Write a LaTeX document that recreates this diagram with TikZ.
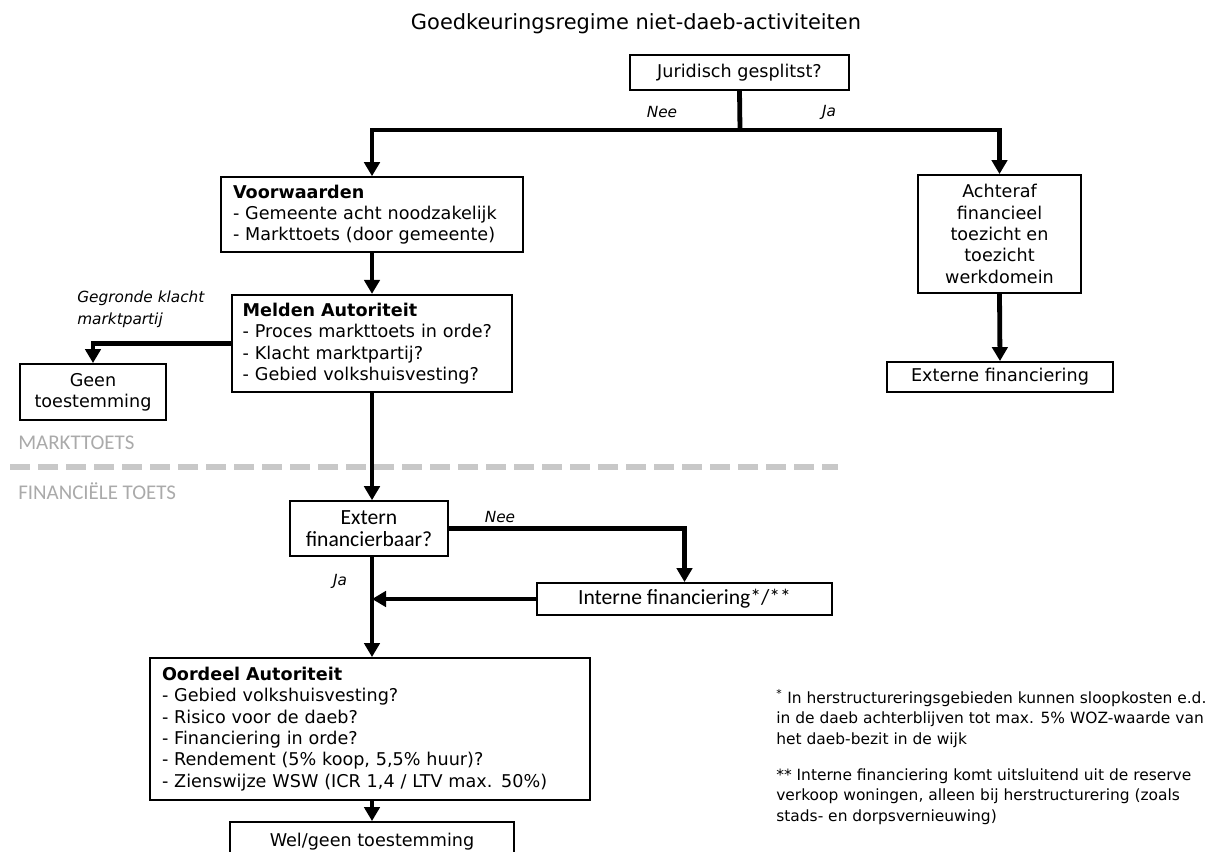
\documentclass[tikz,border=0pt]{standalone}
\usepackage{fontspec}
\setmainfont{DejaVu Sans}
\newfontfamily\carlito{Carlito}
\usetikzlibrary{arrows.meta,positioning}

\definecolor{fasegrijs}{RGB}{170,170,170}
\definecolor{streepgrijs}{RGB}{200,200,200}

\tikzset{
  blok/.style={draw, line width=1.4pt, fill=white, inner sep=0pt, align=center, font=\fontsize{13.2}{16}\selectfont},
  lijst/.style={blok, align=left, inner xsep=9pt, text width=#1},
  maat/.style 2 args={minimum width=#1, minimum height=#2},
  pijl/.style={line width=3.6pt, -{Triangle[length=10.5pt,width=11.5pt]}},
  lijn/.style={line width=3.6pt},
  keuze/.style={inner sep=0pt, font=\fontsize{11.5}{16}\selectfont\itshape},
  fase/.style={inner sep=0pt, anchor=west, text=fasegrijs, font=\fontsize{15.7}{16}\selectfont\carlito},
  calbox/.style={font=\fontsize{16.2}{16.5}\selectfont\carlito},
  noot/.style={inner sep=0pt, anchor=north west, align=left, font=\fontsize{11.6}{15.4}\selectfont},
}

\begin{document}
\begin{tikzpicture}[x=0.75pt,y=0.75pt,yscale=-1,xscale=1]
\clip (0,0) rectangle (1231,852);

% Title
\node[inner sep=0pt, font=\fontsize{15.7}{18}\selectfont] (titel) at (636,24) {Goedkeuringsregime niet-daeb-activiteiten};

% Boxes
\node[blok, maat={164pt}{26pt}] (jur) at (739.5,72.5) {Juridisch gesplitst?};
\coordinate (splits) at (740,130);
\node[lijst=208.5pt, maat={226.5pt}{56pt}] (voor) at (372,214.5) {\textbf{Voorwaarden}\\- Gemeente acht noodzakelijk\\- Markttoets (door gemeente)};
\node[blok, maat={122pt}{88.5pt}] (acht) at (999.5,234) {Achteraf\\financieel\\toezicht en\\toezicht\\werkdomein};
\node[blok, maat={169.5pt}{22.5pt}] (extern) at (1000,377) {Externe financiering};
\node[lijst=194pt, maat={210pt}{73pt}, inner xsep=8pt] (meld) at (372,343.5) {\textbf{Melden Autoriteit}\\- Proces markttoets in orde?\\- Klacht marktpartij?\\- Gebied volkshuisvesting?};
\node[blok, maat={109.5pt}{42pt}] (geen) at (93,392) {Geen\\toestemming};
\node[blok, calbox, maat={118.5pt}{41pt}] (extfin) at (369,528.5) {Extern\\financierbaar?};
\node[blok, calbox, maat={221pt}{24pt}] (intfin) at (684.5,599) {Interne financiering*/**};
\node[lijst=312pt, maat={330pt}{106.5pt}] (oord) at (370,729) {\textbf{Oordeel Autoriteit}\\- Gebied volkshuisvesting?\\- Risico voor de daeb?\\- Financiering in orde?\\- Rendement (5\% koop, 5,5\% huur)?\\- Zienswijze WSW (ICR 1,4 / LTV max. 50\%)};
\node[blok, maat={213pt}{30pt}] (wel) at (372,842) {Wel/geen toestemming};

% Labels
\node[keuze] (nee1) at (662,112) {Nee};
\node[keuze] (ja1) at (829,112) {Ja};
\node[keuze, anchor=north west, align=left] (klacht) at (77,291) {Gegronde klacht\\marktpartij};
\node[keuze] (nee2) at (500,517) {Nee};
\node[keuze] (ja2) at (340,581) {Ja};
\node[fase] (markt) at (18,443) {MARKTTOETS};
\node[fase] (fin) at (18,491) {FINANCIËLE TOETS};

% Separator
\draw[streepgrijs, line width=4.5pt, dash pattern=on 15pt off 6pt] (10,467) -- (838,467);

% Connectors
\draw[lijn] (jur.south) -- (splits);
\draw[pijl] (splits) -| (voor.north);
\draw[pijl] (splits) -| (acht.north);
\draw[pijl] (acht.south) -- (extern.north);
\draw[pijl] (voor.south) -- (meld.north);
\draw[pijl] (meld.west) -| (geen.north);
\draw[pijl] (meld.south) -- (meld.south |- extfin.north);
\draw[pijl] (extfin.east) -| (intfin.north);
\draw[pijl] (extfin.south -| meld.south) -- (meld.south |- oord.north);
\draw[pijl] (intfin.west) -- (intfin.west -| meld.south);
\draw[pijl] (oord.south -| wel.north) -- (wel.north);

% Footnotes
\node[noot] (noot1) at (776,689) {\textsuperscript{*} In herstructureringsgebieden kunnen sloopkosten e.d.\\in de daeb achterblijven tot max. 5\% WOZ-waarde van\\het daeb-bezit in de wijk};
\node[noot] (noot2) at (776,768) {** Interne financiering komt uitsluitend uit de reserve\\verkoop woningen, alleen bij herstructurering (zoals\\stads- en dorpsvernieuwing)};

\end{tikzpicture}
\end{document}
